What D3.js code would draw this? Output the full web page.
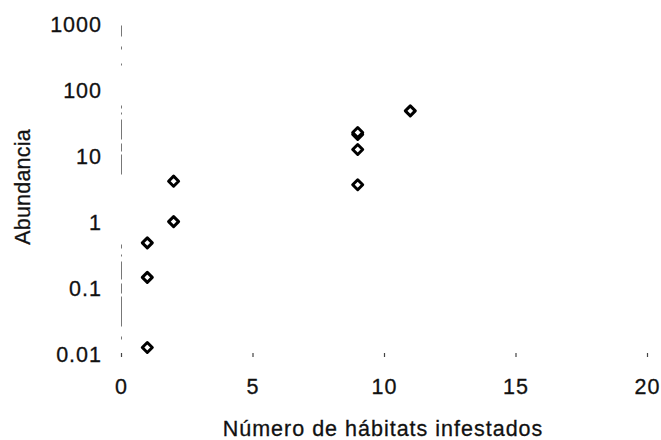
<!DOCTYPE html>
<html>
<head>
<meta charset="utf-8">
<script src="https://cdn.jsdelivr.net/npm/d3@7"></script>
<style>
  html, body { margin: 0; padding: 0; background: #fff; }
  svg { display: block; }
  text { font-family: Arial, "Liberation Sans", sans-serif; fill: #111; }
</style>
</head>
<body>
<svg id="chart" width="661" height="440"></svg>
<script>
// Habitats infested (x) against abundance (y, log scale)
const habitats  = [1, 1, 1, 2, 2, 9, 9, 9, 9, 11];
const abundance = [0.013, 0.15, 0.5, 1.05, 4.3, 3.8, 13, 22, 23.5, 50];
const xTicks = [0, 5, 10, 15, 20];
const yTicks = [0.01, 0.1, 1, 10, 100, 1000];
const xTitle = "Número de hábitats infestados";
const yTitle = "Abundancia";

const FONT = "Arial, 'Liberation Sans', sans-serif";
const FS = 21.5;

const svg = d3.select("#chart");
const x = d3.scaleLinear().domain([0, 20]).range([121, 647]);
const y = d3.scaleLog().domain([0.01, 1000]).range([355, 25]);

function styleText(sel, spacing) {
  sel.attr("font-size", FS)
    .attr("font-family", FONT)
    .attr("fill", "#111")
    .attr("stroke", "#111")
    .attr("stroke-width", 0.3)
    .attr("letter-spacing", spacing);
}

// vertical axis: faint broken line, labels only
const yAxis = d3.axisLeft(y)
  .tickValues(yTicks)
  .tickFormat(d => String(d))
  .tickSize(0)
  .tickPadding(19);
const gy = svg.append("g").attr("transform", `translate(${x(0)},0)`).call(yAxis);
gy.select(".domain")
  .attr("stroke", "#777")
  .attr("stroke-width", 1)
  .attr("stroke-dasharray", "2 14 3 10 30 3 10 4 18 5 2 6 4 70 20 3 8 4 20 5 2 4 3 40");
gy.selectAll(".tick text").call(styleText, 1);

// horizontal axis: small tick marks, no visible baseline
const xAxis = d3.axisBottom(x)
  .tickValues(xTicks)
  .tickFormat(d3.format("d"))
  .tickSize(4)
  .tickPadding(22);
const gx = svg.append("g").attr("transform", `translate(0,${y(0.01) - 2})`).call(xAxis);
gx.select(".domain").remove();
gx.selectAll(".tick line").attr("stroke", "#444").attr("stroke-width", 1.2);
gx.selectAll(".tick text").call(styleText, 1);

// axis titles
svg.append("text")
  .attr("x", (x(0) + x(20)) / 2 - 1)
  .attr("y", 436)
  .attr("text-anchor", "middle")
  .call(styleText, 1)
  .text(xTitle);
svg.append("text")
  .attr("transform", `translate(30,${(y(0.01) + y(1000)) / 2 - 3}) rotate(-90)`)
  .attr("text-anchor", "middle")
  .call(styleText, 0.2)
  .text(yTitle);

// diamond markers
const diamond = d3.symbol().type(d3.symbolDiamond2).size(64);
svg.append("g")
  .selectAll("path")
  .data(habitats.map((h, i) => ({ h, a: abundance[i] })))
  .join("path")
  .attr("transform", d => `translate(${x(d.h)},${y(d.a)})`)
  .attr("d", diamond)
  .attr("fill", "#fff")
  .attr("stroke", "#000")
  .attr("stroke-width", 3)
  .attr("stroke-linejoin", "round");
</script>
</body>
</html>
